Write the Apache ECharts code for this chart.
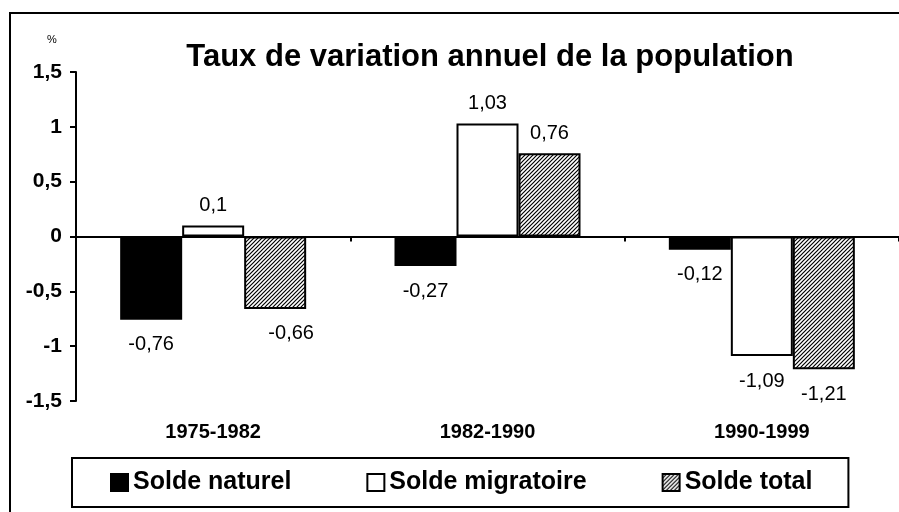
<!DOCTYPE html>
<html>
<head>
<meta charset="utf-8">
<title>Taux de variation annuel de la population</title>
<script src="https://cdn.jsdelivr.net/npm/echarts@6/dist/echarts.min.js"></script>
<style>
  html, body { margin: 0; padding: 0; background: #fff; }
  #chart { width: 899px; height: 512px; }
</style>
</head>
<body>
<div id="chart"></div>
<script>
// données
const categories = ['1975-1982', '1982-1990', '1990-1999'];
const seriesNames = ['Solde naturel', 'Solde migratoire', 'Solde total'];
const soldeNaturel = [-0.76, -0.27, -0.12];
const soldeMigratoire = [0.1, 1.03, -1.09];
const soldeTotal = [-0.66, 0.76, -1.21];
const yMin = -1.5;
const yMax = 1.5;
const yStep = 0.5;

const FONT = "'Liberation Sans', Arial, sans-serif";
const toComma = v => String(v).replace('.', ',');

// motif hachuré "////"
const makeHatch = () => {
  const c = document.createElement('canvas');
  c.width = 4;
  c.height = 4;
  const ctx = c.getContext('2d');
  ctx.fillStyle = '#fff';
  ctx.fillRect(0, 0, 4, 4);
  ctx.strokeStyle = '#000';
  ctx.lineWidth = 1.2;
  ctx.beginPath();
  ctx.moveTo(0, 4); ctx.lineTo(4, 0);
  ctx.moveTo(-1, 1); ctx.lineTo(1, -1);
  ctx.moveTo(3, 5); ctx.lineTo(5, 3);
  ctx.stroke();
  return c;
};

const makeSeries = (name, values, color) => ({
  name: name,
  type: 'bar',
  xAxisIndex: 0,
  barWidth: 62,
  barGap: '0%',
  itemStyle: { color: color, borderColor: '#000', borderWidth: 2 },
  label: {
    show: true,
    color: '#000',
    fontFamily: FONT,
    fontSize: 20,
    formatter: p => toComma(p.value)
  },
  emphasis: { disabled: true },
  data: values.map(v => ({
    value: v,
    label: v < 0 ? { position: 'bottom', distance: 15 } : { position: 'top', distance: 10 }
  }))
});

const series = [
  makeSeries(seriesNames[0], soldeNaturel, '#000'),
  makeSeries(seriesNames[1], soldeMigratoire, '#fff'),
  makeSeries(seriesNames[2], soldeTotal, { image: makeHatch(), repeat: 'repeat' })
];
// étiquette -0,66 décalée vers la droite comme dans l'original
series[2].data[0].label.offset = [16, 0];

const chart = echarts.init(document.getElementById('chart'));

chart.setOption({
  animation: false,
  backgroundColor: '#fff',
  textStyle: { fontFamily: FONT },
  title: [
    {
      text: 'Taux de variation annuel de la population',
      left: 490,
      top: 42,
      textAlign: 'center',
      padding: 0,
      textStyle: { fontFamily: FONT, fontSize: 31, fontWeight: 'bold', color: '#000' }
    },
    {
      text: '%',
      left: 47,
      top: 34,
      padding: 0,
      textStyle: { fontFamily: FONT, fontSize: 11, fontWeight: 'normal', color: '#000' }
    }
  ],
  graphic: [
    {
      type: 'rect',
      silent: true,
      shape: { x: 10, y: 13, width: 920, height: 520 },
      style: { fill: 'none', stroke: '#000', lineWidth: 2 }
    }
  ],
  legend: {
    data: seriesNames,
    left: 72,
    top: 458,
    selectedMode: false,
    itemWidth: 17,
    itemHeight: 17,
    itemGap: 75,
    padding: [12, 36, 12, 38],
    borderColor: '#000',
    borderWidth: 2,
    icon: 'rect',
    textStyle: { fontFamily: FONT, fontSize: 25, fontWeight: 'bold', color: '#000' }
  },
  grid: { left: 76, top: 72, width: 826, height: 329 },
  xAxis: [
    {
      type: 'category',
      data: categories,
      axisLine: { onZero: true, lineStyle: { color: '#000', width: 2 } },
      axisTick: { show: true, length: 5, lineStyle: { color: '#000', width: 2 } },
      axisLabel: { show: false },
      splitLine: { show: false }
    },
    {
      type: 'category',
      data: categories,
      position: 'bottom',
      axisLine: { show: false, onZero: false },
      axisTick: { show: false },
      axisLabel: {
        margin: 21,
        color: '#000',
        fontFamily: FONT,
        fontSize: 20,
        fontWeight: 'bold'
      },
      splitLine: { show: false }
    }
  ],
  yAxis: {
    type: 'value',
    min: yMin,
    max: yMax,
    interval: yStep,
    axisLine: { show: true, lineStyle: { color: '#000', width: 2 } },
    axisTick: { show: true, length: 6, lineStyle: { color: '#000', width: 2 } },
    axisLabel: {
      margin: 14,
      color: '#000',
      fontFamily: FONT,
      fontSize: 21,
      fontWeight: 'bold',
      formatter: v => toComma(v)
    },
    splitLine: { show: false }
  },
  series: series
});
</script>
</body>
</html>
